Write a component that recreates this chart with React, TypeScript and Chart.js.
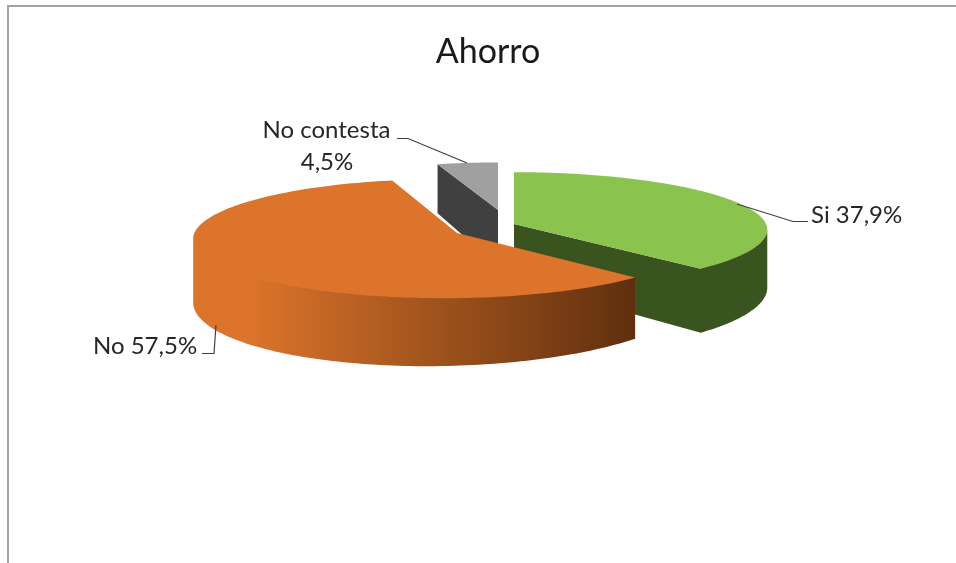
import React, { useEffect, useRef } from "react";
import { Chart, registerables } from "chart.js";

Chart.register(...registerables);

const categories = ["Si", "No", "No contesta"];
const values = [37.9, 57.5, 4.5];
const topColors = ["#8bc34f", "#dc742b", "#a0a0a0"];
const wallColors = ["#3a5420", "#dc742b", "#404040"];
const drawOrder = [2, 0, 1];

// Per-slice 3D projection settings: apex, radii, depth and perspective.
const projections = [
  { ax: 514, ay: 224, R: 252, S: 57, D: 57, k: 0.1, m: 0 },
  { ax: 457, ay: 233, R: 250, S: 59, D: 58, k: 0.094, m: 0.048 },
  { ax: 498, ay: 210, R: 236, S: 52, D: 56, k: 0.094, m: 0 },
];

const FONT = "Lato, 'Open Sans', sans-serif";
const TEXT = "#262626";
const fmt = (v: number) => v.toFixed(1).replace(".", ",") + "%";

const area = (q: number[][]) => {
  let t = 0;
  q.forEach((a, n) => {
    const b = q[(n + 1) % q.length];
    t += a[0] * b[1] - b[0] * a[1];
  });
  return t;
};

const pie3d = {
  id: "pie3d",
  beforeDraw(chart: any) {
    const c = chart.ctx;
    c.save();
    c.fillStyle = "#fff";
    c.fillRect(0, 0, chart.width, chart.height);
    c.strokeStyle = "#a3a3a3";
    c.lineWidth = 2;
    c.beginPath();
    c.moveTo(8, chart.height);
    c.lineTo(8, 6);
    c.lineTo(chart.width, 6);
    c.stroke();
    c.restore();
  },
  beforeDatasetDraw(chart: any) {
    const c = chart.ctx;
    const arcs = chart.getDatasetMeta(0).data;
    const project = (i: number, u: number, v: number, low: boolean) => {
      const p = projections[i];
      const w = 1 + p.k * v + p.m * u;
      return [
        p.ax + (p.R * u) / w,
        p.ay - (p.S * v) / w + (low ? p.D / Math.pow(w, 1.55) : 0),
      ];
    };
    const rim = (i: number, a: number, low: boolean) =>
      project(i, Math.cos(a), -Math.sin(a), low);
    const addQuad = (q: number[][]) => {
      const pts = area(q) < 0 ? q.slice().reverse() : q;
      pts.forEach((p, n) => (n ? c.lineTo(p[0], p[1]) : c.moveTo(p[0], p[1])));
      c.closePath();
    };
    for (const i of drawOrder) {
      const arc = arcs[i];
      const s = arc.startAngle;
      const e = arc.endAngle;
      const steps = 160;
      const top: number[][] = [];
      const bottom: number[][] = [];
      for (let n = 0; n <= steps; n++) {
        const a = s + ((e - s) * n) / steps;
        top.push(rim(i, a, false));
        bottom.push(rim(i, a, true));
      }
      const apex = project(i, 0, 0, false);
      const apexLow = project(i, 0, 0, true);
      let wall: any = wallColors[i];
      if (i === 1) {
        const g = c.createLinearGradient(194, 0, 636, 0);
        g.addColorStop(0, "#dc742b");
        g.addColorStop(0.12, "#dc742b");
        g.addColorStop(1, "#5f2f0e");
        wall = g;
      }
      c.beginPath();
      if (i !== 1) {
        if (Math.abs(top[0][0] - apex[0]) > 1) addQuad([apex, top[0], bottom[0], apexLow]);
        if (Math.abs(top[steps][0] - apex[0]) > 1) addQuad([apex, top[steps], bottom[steps], apexLow]);
      }
      for (let n = 0; n < steps; n++) {
        if (top[n + 1][0] < top[n][0]) {
          // The wall runs slightly under the top face so no seam shows between them.
          addQuad([
            [top[n][0], top[n][1] - 1],
            [top[n + 1][0], top[n + 1][1] - 1],
            bottom[n + 1],
            bottom[n],
          ]);
        }
      }
      c.fillStyle = wall;
      c.fill("nonzero");
      c.beginPath();
      c.moveTo(apex[0], apex[1]);
      top.forEach((p) => c.lineTo(p[0], p[1]));
      c.closePath();
      c.fillStyle = topColors[i];
      c.fill();
    }
    return false;
  },
  afterDraw(chart: any) {
    const c = chart.ctx;
    c.save();
    c.strokeStyle = "#404040";
    c.lineWidth = 1.2;
    const leaders = [
      [[737, 204], [793, 221.5], [808, 221.5]],
      [[216, 325], [214, 353.5], [202, 353.5]],
      [[467, 163], [408, 138.5], [397, 138.5]],
    ];
    leaders.forEach((l) => {
      c.beginPath();
      l.forEach((q, n) => (n ? c.lineTo(q[0], q[1]) : c.moveTo(q[0], q[1])));
      c.stroke();
    });
    c.fillStyle = TEXT;
    c.font = `24px ${FONT}`;
    c.textBaseline = "middle";
    c.textAlign = "left";
    c.fillText(`${categories[0]} ${fmt(values[0])}`, 811, 215);
    c.fillText(`${categories[1]} ${fmt(values[1])}`, 93, 346);
    c.textAlign = "center";
    c.fillText(categories[2], 326.5, 130);
    c.fillText(fmt(values[2]), 327, 162);
    c.restore();
  },
};

export default function App() {
  const ref = useRef<HTMLCanvasElement>(null);
  useEffect(() => {
    const chart = new Chart(ref.current as HTMLCanvasElement, {
      type: "pie",
      data: {
        labels: categories,
        datasets: [{ data: values, backgroundColor: topColors, borderWidth: 0 }],
      },
      options: {
        animation: false,
        responsive: false,
        layout: { padding: { left: 20, top: 32 } },
        plugins: {
          legend: { display: false },
          tooltip: { enabled: false },
          title: {
            display: true,
            text: "Ahorro",
            color: "#1a1a1a",
            font: { family: FONT, size: 34, weight: "normal" },
            padding: { top: 0, bottom: 0 },
          },
        },
      },
      plugins: [pie3d],
    } as any);
    return () => chart.destroy();
  }, []);
  return (
    <canvas
      ref={ref}
      width={956}
      height={563}
      style={{ position: "absolute", left: 0, top: 0, display: "block" }}
    />
  );
}
